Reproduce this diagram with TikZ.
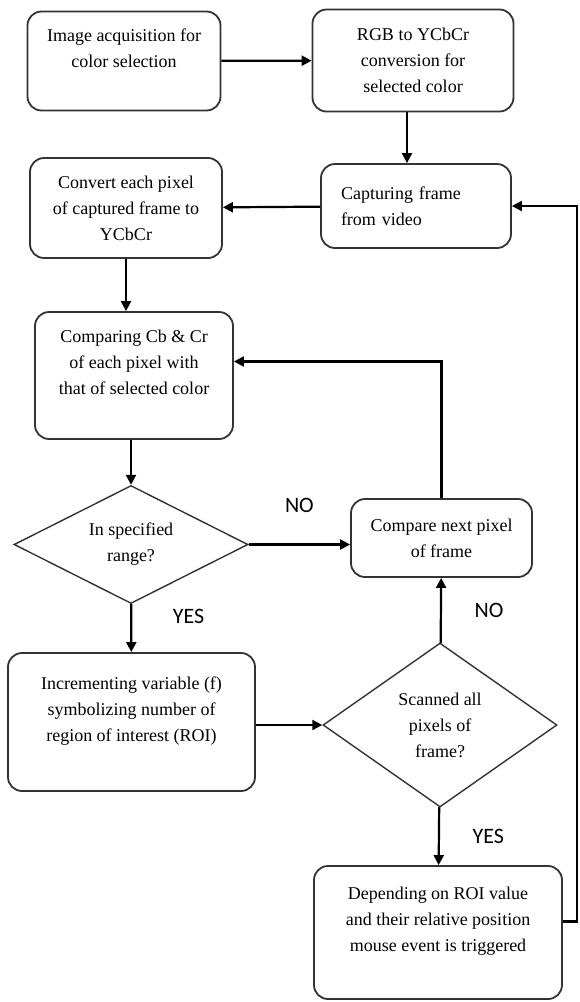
\documentclass[tikz,border=0pt]{standalone}
\usepackage{fontspec}
\setmainfont{Liberation Serif}
\newfontfamily\labelfont{Carlito}
\usepackage{tikz}
\usetikzlibrary{shapes.geometric, arrows.meta, positioning, calc}
\tikzset{
  flowblock/.style={
    rectangle, draw=black!80, line width=0.9pt, rounded corners=7pt,
    align=center, inner sep=2pt, font=\fontsize{9}{13}\selectfont
  },
  flowdecision/.style={
    diamond, draw=black!80, line width=0.7pt, align=center, aspect=1.5,
    inner sep=0pt, font=\fontsize{9}{13}\selectfont
  },
  flowarrow/.style={
    line width=1.1pt, -{Triangle[length=5pt,width=5pt]}
  },
  flowlabel/.style={
    font=\labelfont\fontsize{11}{13}\selectfont
  }
}

\begin{document}
\begin{tikzpicture}[x=0.5pt, y=-0.5pt]
  \useasboundingbox (0,0) rectangle (579,1002);
  \node[flowblock, minimum width=96.5pt, minimum height=49.5pt] (acquire) at (124,61) {Image acquisition for\\ color selection\\ ~};
  \node[flowblock, minimum width=100.5pt, minimum height=51pt] (rgb) at (413,60.5) {RGB to YCbCr\\ conversion for\\ selected color};
  \node[flowblock, minimum width=95pt, minimum height=42pt, text width=75pt, align=left] (capture) at (416,206) {Capturing frame\\ from video};
  \node[flowblock, minimum width=96pt, minimum height=50pt] (convert) at (126,208) {Convert each pixel\\ of captured frame to\\ YCbCr};
  \node[flowblock, minimum width=99pt, minimum height=63.5pt] (compare) at (134,375.5) {Comparing Cb \& Cr\\ of each pixel with\\ that of selected color\\ ~};
  \node[flowdecision, minimum width=117pt, minimum height=59pt] (inrange) at (131,544.5) {In specified\\ range?};
  \node[flowblock, minimum width=90.5pt, minimum height=39pt] (nextpix) at (441.5,538) {Compare next pixel\\ of frame};
  \node[flowblock, minimum width=123.5pt, minimum height=69pt] (increment) at (131.5,722) {Incrementing variable (f)\\ symbolizing number of\\ region of interest (ROI)\\ ~};
  \node[flowdecision, minimum width=117pt, minimum height=82pt] (scanned) at (440,725) {Scanned all\\ pixels of\\ frame?};
  \node[flowblock, minimum width=124pt, minimum height=66.5pt] (mouse) at (438,932.5) {Depending on ROI value\\ and their relative position\\ mouse event is triggered\\ ~};
  \coordinate (edge) at (577,0);

  \draw[flowarrow] (acquire) -- (rgb);
  \draw[flowarrow] ([xshift=-3pt]rgb.south) -- ([xshift=-3pt]rgb.south |- capture.north);
  \draw[flowarrow] (capture) -- (convert);
  \draw[flowarrow] (convert) -- (convert |- compare.north);
  \draw[flowarrow] (inrange |- compare.south) -- (inrange);
  \draw[flowarrow] (inrange.east) -- node[flowlabel, above=12pt]{NO} (inrange.east -| nextpix.west);
  \draw[flowarrow] (nextpix.north) |- ([yshift=7pt]compare.east);
  \draw[flowarrow] (inrange) -- node[flowlabel, pos=0.25, right=17pt]{YES} (increment);
  \draw[flowarrow] (increment.east |- scanned.west) -- (scanned.west);
  \draw[flowarrow] (scanned) -- node[flowlabel, right=13pt]{NO} (nextpix);
  \draw[flowarrow] (scanned) -- node[flowlabel, right=13pt]{YES} (mouse);
  \draw[flowarrow] ([yshift=5.5pt]mouse.east) -| (edge |- capture.east) -- (capture.east);
\end{tikzpicture}
\end{document}
